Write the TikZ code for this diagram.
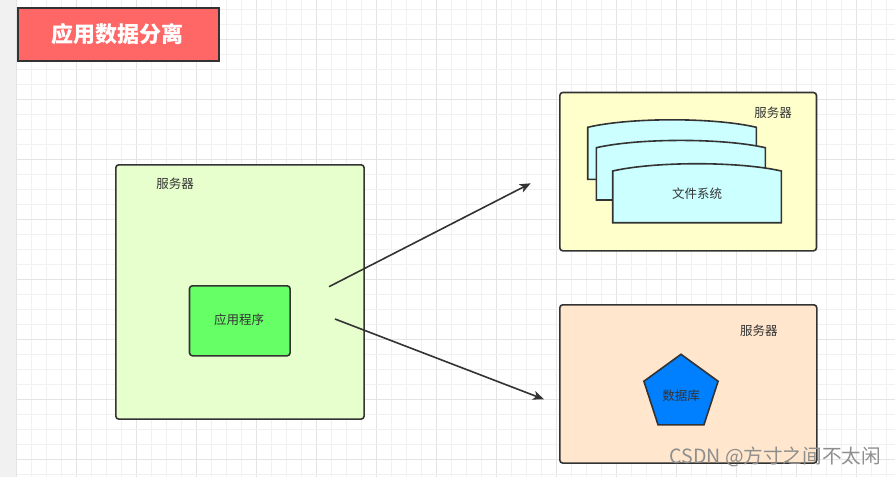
\documentclass[tikz,border=0pt]{standalone}
\usepackage{fontspec}
\setmainfont{Noto Sans CJK SC}
\usetikzlibrary{arrows.meta,shapes.geometric}
\definecolor{edge}{HTML}{333333}
\definecolor{minorgrid}{HTML}{F1F1F1}
\definecolor{majorgrid}{HTML}{E4E4E4}
\definecolor{strip}{HTML}{F1F1F1}
\definecolor{titlefill}{HTML}{FF6666}
\definecolor{greenfill}{HTML}{E6FFCC}
\definecolor{appfill}{HTML}{66FF66}
\definecolor{yellowfill}{HTML}{FFFFCC}
\definecolor{cyanfill}{HTML}{CCFFFF}
\definecolor{orangefill}{HTML}{FFE6CC}
\definecolor{bluefill}{HTML}{007FFF}
\definecolor{wmark}{HTML}{8E8E8E}
\tikzset{
  box/.style={draw=edge, line width=1.6pt, rounded corners=3pt, inner sep=0pt, anchor=north west},
  lbl/.style={font=\fontsize{12.5}{14}\selectfont, text=edge, inner sep=0pt},
  conn/.style={draw=edge, line width=1.6pt, -{Stealth[length=11pt,width=9pt,inset=3pt]}},
  tapeshape/.style={draw=edge, line width=1.6pt, fill=cyanfill},
}
\begin{document}
\begin{tikzpicture}[x=1pt,y=-1pt]
\useasboundingbox (0,0) rectangle (895,477);
% background
\fill[white] (0,0) rectangle (895,477);
\fill[strip] (0,0) rectangle (16.2,477);
\foreach \i in {0,...,58} {
  \pgfmathsetmacro{\xx}{16.7+15*\i}
  \pgfmathtruncatemacro{\m}{mod(\i,4)}
  \ifnum\m=0
    \draw[majorgrid, line width=1pt] (\xx,0) -- (\xx,477);
  \else
    \draw[minorgrid, line width=1pt] (\xx,0) -- (\xx,477);
  \fi
}
\foreach \j in {0,...,31} {
  \pgfmathsetmacro{\yy}{9.3+15*\j}
  \pgfmathtruncatemacro{\m}{mod(\j+2,4)}
  \ifnum\m=0
    \draw[majorgrid, line width=1pt] (16.7,\yy) -- (895,\yy);
  \else
    \draw[minorgrid, line width=1pt] (16.7,\yy) -- (895,\yy);
  \fi
}
% title
\node[draw=edge, line width=2pt, fill=titlefill, inner sep=0pt, anchor=north west,
      minimum width=201.6pt, minimum height=53pt] (title) at (16.7,7.3) {};
\node[text=white, font=\fontsize{22}{24}\selectfont\bfseries, inner sep=0pt] (titletext) at (117.5,34) {应用数据分离};
% green server
\node[box, fill=greenfill, minimum width=248.3pt, minimum height=254.3pt] (srvA) at (115,164) {};
\node[lbl] (srvAlbl) at (175,184) {服务器};
\node[box, fill=appfill, minimum width=100.6pt, minimum height=70pt] (app) at (188.7,285) {};
\node[lbl] (apptext) at (239,320) {应用程序};
% yellow server
\node[box, fill=yellowfill, minimum width=256.7pt, minimum height=158.3pt] (srvB) at (559,91.7) {};
\node[lbl] (srvBlbl) at (773,112.3) {服务器};
% tapes
\path[tapeshape] (587.7,127.3) .. controls (630,117.3) and (714,117.3) .. (756.3,127.3) -- (756.3,179.3) -- (587.7,179.3) -- cycle;
\path[tapeshape] (596.3,147.7) .. controls (638.6,138) and (723,138) .. (765.3,147.7) -- (765.3,200) -- (596.3,200) -- cycle;
\path[tapeshape] (612.7,171) .. controls (655,161.3) and (739,161.3) .. (781.3,171) -- (781.3,222.7) -- (612.7,222.7) -- cycle;
\node[lbl] (fs) at (697,193.3) {文件系统};
% orange server
\node[box, fill=orangefill, minimum width=257pt, minimum height=158.3pt] (srvC) at (559,304) {};
\node[lbl] (srvClbl) at (758.8,330.7) {服务器};
\node[draw=edge, line width=1.6pt, fill=bluefill, regular polygon, regular polygon sides=5,
      minimum size=78pt, inner sep=0pt] (db) at (681,393.3) {};
\node[lbl] (dbtext) at (681,395.7) {数据库};
% connectors
\coordinate (a1s) at (329,286.7);
\coordinate (a1e) at (530.7,183.3);
\coordinate (a2s) at (335,319);
\coordinate (a2e) at (544,399.3);
\draw[conn] (a1s) -- (a1e);
\draw[conn] (a2s) -- (a2e);
% watermark
\node[text=wmark, font=\fontsize{19.6}{21}\selectfont, inner sep=0pt, anchor=west] (wm) at (669.3,456.7) {CSDN @方寸之间不太闲};
\end{tikzpicture}
\end{document}
